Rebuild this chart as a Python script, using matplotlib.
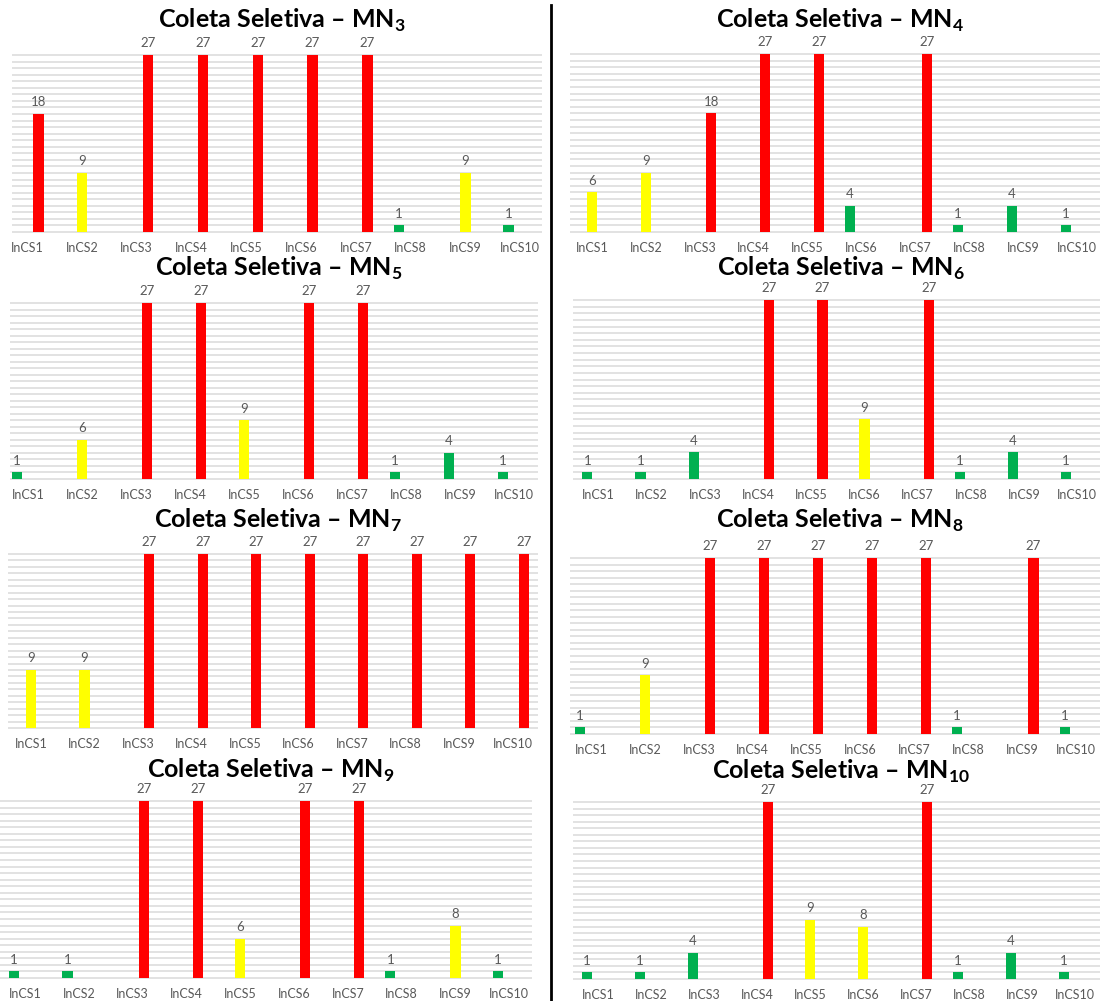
import numpy as np
import matplotlib
matplotlib.use("Agg")
import matplotlib.pyplot as plt
from matplotlib.lines import Line2D

plt.rcParams["font.family"] = ["Lato", "DejaVu Sans"]
plt.rcParams["mathtext.fontset"] = "custom"
plt.rcParams["mathtext.rm"] = "Lato"
plt.rcParams["mathtext.bf"] = "Lato:bold"

CATEGORIES = [f"InCS{i}" for i in range(1, 11)]
PANEL_NAMES = ["3", "4", "5", "6", "7", "8", "9", "10"]

MN3 = [18, 9, 27, 27, 27, 27, 27, 1, 9, 1]
MN4 = [6, 9, 18, 27, 27, 4, 27, 1, 4, 1]
MN5 = [1, 6, 27, 27, 9, 27, 27, 1, 4, 1]
MN6 = [1, 1, 4, 27, 27, 9, 27, 1, 4, 1]
MN7 = [9, 9, 27, 27, 27, 27, 27, 27, 27, 27]
MN8 = [1, 9, 27, 27, 27, 27, 27, 1, 27, 1]
MN9 = [1, 1, 27, 27, 6, 27, 27, 1, 8, 1]
MN10 = [1, 1, 4, 27, 9, 8, 27, 1, 4, 1]
PANELS = [MN3, MN4, MN5, MN6, MN7, MN8, MN9, MN10]

YMAX = 27
GREEN, YELLOW, RED = "#00B050", "#FFFF00", "#FF0000"
GREY = "#595959"

W, H = 1100, 1001

# pixel layout per panel: x0, x1, y of 27, y of 0, centre of InCS1, category step, title y
LAYOUT = [
    (12, 542, 55, 232, 27, 54.8, 20),
    (570, 1100, 54, 232, 592, 53.9, 20),
    (10, 538, 303, 479, 28, 54.0, 268),
    (573, 1100, 300, 479, 598.5, 53.2, 268),
    (8, 538, 554, 728, 31, 53.5, 520),
    (570, 1100, 558, 734, 591, 53.9, 520),
    (0, 532, 801, 978, 25, 53.8, 770),
    (573, 1100, 802, 979, 598, 53.0, 771),
]


def series_of(v):
    """Split a value into the green / yellow / red series."""
    if v <= 4:
        return 0
    if v <= 9:
        return 1
    return 2


fig = plt.figure(figsize=(11, 10.01), dpi=100)

bw = 0.19
offsets = [-0.21, 0.0, 0.21]
colors = [GREEN, YELLOW, RED]
pad = 0.2

for name, values, (x0, x1, ytop, ybase, c1, step, ty) in zip(PANEL_NAMES, PANELS, LAYOUT):
    ppu = (ybase - ytop) / YMAX
    top_px = ytop - pad * ppu
    bot_px = ybase + pad * ppu
    ax = fig.add_axes([x0 / W, 1 - bot_px / H, (x1 - x0) / W, (bot_px - top_px) / H])
    ax.set_ylim(-pad, YMAX + pad)
    ax.set_xlim((x0 - c1) / step, (x1 - c1) / step)

    for y in range(YMAX + 1):
        ax.axhline(y, color="#E2E2E2", lw=1.4, zorder=0)

    x = np.arange(len(values))
    groups = np.array([series_of(v) for v in values])
    for s in range(3):
        mask = groups == s
        xs = x[mask] + offsets[s]
        vs = np.array(values)[mask]
        ax.bar(xs, vs, width=bw, color=colors[s], zorder=2)
        for xi, vi in zip(xs, vs):
            ax.annotate(str(vi), (xi, vi), xytext=(0, 4), textcoords="offset points",
                        ha="center", va="bottom", fontsize=9.5, color=GREY,
                        annotation_clip=False)

    ax.set_xticks(x, CATEGORIES)
    ax.tick_params(axis="x", length=0, pad=6, labelsize=9, labelcolor=GREY)
    ax.set_yticks([])
    for sp in ax.spines.values():
        sp.set_visible(False)
    ax.patch.set_alpha(0)

    cx = (x0 + x1) / 2 + 5
    fig.text(cx / W, 1 - ty / H, "Coleta Seletiva – MN$_{\\mathbf{" + name + "}}$",
             ha="center", va="center", fontsize=18, fontweight="bold", color="black")

fig.add_artist(Line2D([551 / W, 551 / W], [1 - 5 / H, 0], color="black", lw=2))

fig.savefig("out.png", dpi=100)
